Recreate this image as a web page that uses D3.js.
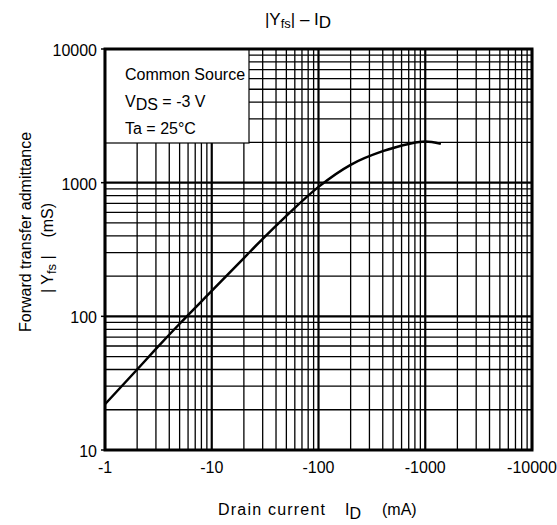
<!DOCTYPE html>
<html>
<head>
<meta charset="utf-8">
<script src="https://cdn.jsdelivr.net/npm/d3@7"></script>
<style>
body { margin: 0; background: #fff; }
text { font-family: "Liberation Sans", Arial, sans-serif; fill: #000; }
</style>
</head>
<body>
<div id="chart"></div>
<script>
// drain current (mA, magnitude) and |Yfs| (mS)
var current = [1, 2, 3, 5, 10, 20, 30, 50, 100, 200, 400, 700, 1000, 1400];
var yfs = [22, 40, 57, 88, 155, 273, 380, 565, 930, 1360, 1720, 1950, 2030, 1950];
var xTicks = [1, 10, 100, 1000, 10000];
var xTickLabels = ["-1", "-10", "-100", "-1000", "-10000"];
var yTicks = [10, 100, 1000, 10000];

var w = 557, h = 525;
var pLeft = 105, pRight = 532, pTop = 49, pBottom = 450;

var svg = d3.select("#chart").append("svg")
    .attr("width", w)
    .attr("height", h);

var xScale = d3.scaleLog().domain([1, 10000]).range([pLeft, pRight]);
var yScale = d3.scaleLog().domain([10, 10000]).range([pBottom, pTop]);

// grid lines, 1..9 in every decade
var xGrid = [], yGrid = [];
for (var d = 1; d < 10000; d *= 10) {
    for (var k = 1; k < 10; k++) xGrid.push(d * k);
}
xGrid.push(10000);
for (var d = 10; d < 10000; d *= 10) {
    for (var k = 1; k < 10; k++) yGrid.push(d * k);
}
yGrid.push(10000);

function isMajor(v) {
    return Math.abs(Math.log10(v) - Math.round(Math.log10(v))) < 1e-9;
}

var grid = svg.append("g");
grid.selectAll(".vx")
    .data(xGrid)
    .enter().append("line")
    .attr("x1", function(d) { return xScale(d); })
    .attr("x2", function(d) { return xScale(d); })
    .attr("y1", pTop)
    .attr("y2", pBottom)
    .attr("stroke", "#000")
    .attr("stroke-width", function(d) { return isMajor(d) ? 2.2 : 1.3; });

grid.selectAll(".hy")
    .data(yGrid)
    .enter().append("line")
    .attr("y1", function(d) { return yScale(d); })
    .attr("y2", function(d) { return yScale(d); })
    .attr("x1", pLeft)
    .attr("x2", pRight)
    .attr("stroke", "#000")
    .attr("stroke-width", function(d) { return isMajor(d) ? 2.2 : 1.3; });

// ticks on the y axis
svg.selectAll(".yt")
    .data(yTicks)
    .enter().append("line")
    .attr("x1", pLeft - 4)
    .attr("x2", pLeft)
    .attr("y1", function(d) { return yScale(d); })
    .attr("y2", function(d) { return yScale(d); })
    .attr("stroke", "#000")
    .attr("stroke-width", 1.5);

// curve
var line = d3.line()
    .x(function(d, i) { return xScale(current[i]); })
    .y(function(d, i) { return yScale(yfs[i]); })
    .curve(d3.curveMonotoneX);

svg.append("path")
    .datum(yfs)
    .attr("d", line)
    .attr("fill", "none")
    .attr("stroke", "#000")
    .attr("stroke-width", 2.5);

// legend box
svg.append("rect")
    .attr("x", pLeft)
    .attr("y", pTop)
    .attr("width", 144)
    .attr("height", 94)
    .attr("fill", "#fff")
    .attr("stroke", "#000")
    .attr("stroke-width", 1.2);

svg.append("text").attr("x", 125).attr("y", 80).style("font-size", "16px").text("Common Source");
var vds = svg.append("text").attr("x", 125).attr("y", 107).style("font-size", "16px");
vds.append("tspan").text("V");
vds.append("tspan").attr("dy", 3).text("DS");
vds.append("tspan").attr("dy", -3).text(" = -3 V");
svg.append("text").attr("x", 125).attr("y", 134).style("font-size", "16px").text("Ta = 25°C");

// frame
svg.append("rect")
    .attr("x", pLeft)
    .attr("y", pTop)
    .attr("width", pRight - pLeft)
    .attr("height", pBottom - pTop)
    .attr("fill", "none")
    .attr("stroke", "#000")
    .attr("stroke-width", 3);

// tick labels
svg.selectAll(".yl")
    .data(yTicks)
    .enter().append("text")
    .attr("x", 97)
    .attr("y", function(d) { return yScale(d) + 7; })
    .attr("text-anchor", "end")
    .style("font-size", "16px")
    .text(function(d) { return d; });

svg.selectAll(".xl")
    .data(xTicks)
    .enter().append("text")
    .attr("x", function(d) { return xScale(d); })
    .attr("y", 473)
    .attr("text-anchor", "middle")
    .style("font-size", "16px")
    .text(function(d, i) { return xTickLabels[i]; });

// title
var title = svg.append("text")
    .attr("x", 298)
    .attr("y", 25)
    .attr("text-anchor", "middle")
    .style("font-size", "17px");
title.append("tspan").text("|Y");
title.append("tspan").attr("dy", 3).style("font-size", "13px").text("fs");
title.append("tspan").attr("dy", -3).text("| – I");
title.append("tspan").attr("dy", 3).text("D");

// x axis title
var xt = svg.append("text")
    .attr("y", 515)
    .style("font-size", "16px");
xt.append("tspan").attr("x", 218).attr("textLength", 107).text("Drain current");
xt.append("tspan").attr("x", 345).text("I");
xt.append("tspan").attr("dy", 4).text("D");
xt.append("tspan").attr("x", 382).attr("dy", -4).text("(mA)");

// y axis title
svg.append("text")
    .attr("transform", "translate(31,232) rotate(-90)")
    .attr("text-anchor", "middle")
    .style("font-size", "16px")
    .text("Forward transfer admittance");

var yt = svg.append("text")
    .attr("transform", "translate(53,248) rotate(-90)")
    .attr("text-anchor", "middle")
    .style("font-size", "16px")
    .attr("xml:space", "preserve");
yt.append("tspan").text("| Y");
yt.append("tspan").attr("dy", 3).style("font-size", "13px").text("fs");
yt.append("tspan").attr("dy", -3).text(" |    (mS)");
</script>
</body>
</html>
